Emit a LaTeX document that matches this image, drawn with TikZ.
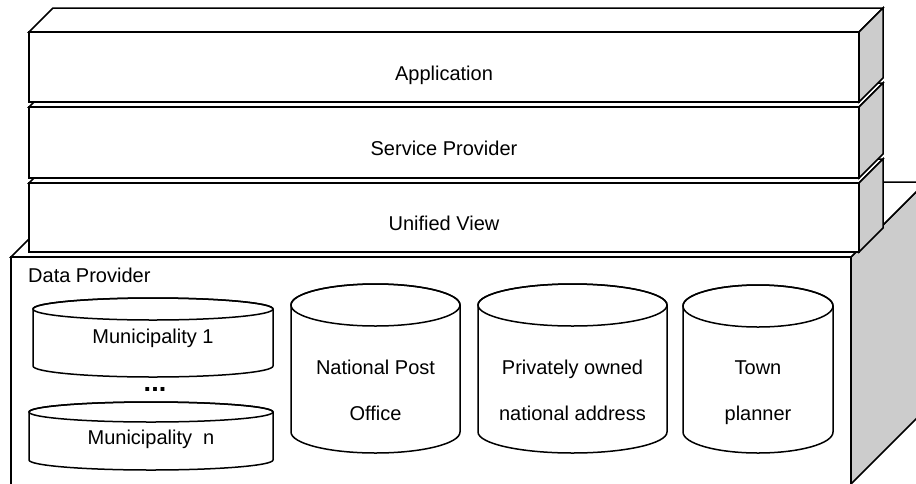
\documentclass[tikz,border=0pt]{standalone}
\usepackage{fontspec}
\setmainfont{Liberation Sans}
\definecolor{sidegray}{RGB}{204,204,204}
\tikzset{
  edge/.style={draw=black, line width=1.5pt, line join=miter},
  lbl/.style={font=\fontsize{20}{24}\selectfont, inner sep=0pt, anchor=base},
}
% slab: ytop, ybot, name, text, baseline
\newcommand\slab[5]{%
  \draw[edge, fill=white] (29,#1) -- (53,#1-24) -- (883,#1-24) -- (859,#1) -- cycle;
  \draw[edge, fill=sidegray] (859,#1) -- (883,#1-24) -- (883,#2-24) -- (859,#2) -- cycle;
  \draw[edge, fill=white] (29,#1) rectangle (859,#2);
  \node[lbl] (#3) at (444,#5) {#4};
}
% dbcyl: cx, rx, ytop, ybot, ry
\newcommand\dbcyl[5]{%
  \draw[edge, fill=white] (#1-#2,#3) -- (#1-#2,#4)
    arc[start angle=180, end angle=360, x radius=#2pt, y radius=#5pt]
    -- (#1+#2,#3)
    arc[start angle=0, end angle=180, x radius=#2pt, y radius=#5pt] -- cycle;
  \draw[edge] (#1,#3) ellipse[x radius=#2pt, y radius=#5pt];
}
\begin{document}
\begin{tikzpicture}[x=1pt, y=-1pt]
\useasboundingbox (0,0) rectangle (916,483);
\fill[white] (0,0) rectangle (916,483);
\clip (0,0) rectangle (916,483);
% Data provider box
\draw[edge, fill=sidegray] (851,257) -- (926,182) -- (926,409) -- (851,484) -- cycle;
\draw[edge, fill=white] (11,257) -- (86,182) -- (926,182) -- (851,257) -- cycle;
\draw[edge, fill=white] (11,257) rectangle (851,490);
\node[lbl, anchor=base west] (dp) at (28,282) {Data Provider};
% layers
\slab{183}{252}{uv}{Unified View}{230}
\slab{107}{178}{sp}{Service Provider}{155}
\slab{32}{102}{app}{Application}{80}
% databases
\dbcyl{153}{120}{309}{366}{11}
\node[lbl] (m1) at (153,343) {Municipality 1};
\node[lbl, font=\fontsize{27}{30}\selectfont\bfseries] (dots) at (155,391) {...};
\dbcyl{151}{122}{412}{460}{10}
\node[lbl] (mn) at (151,444) {Municipality\ \ n};
\dbcyl{375.5}{84.5}{305}{432}{21}
\node[lbl] (npo1) at (375.5,374) {National Post};
\node[lbl] (npo2) at (375.5,420) {Office};
\dbcyl{572.5}{94.5}{305}{432}{21}
\node[lbl] (poa1) at (572.5,374) {Privately owned};
\node[lbl] (poa2) at (572.5,420) {national address};
\dbcyl{758}{75}{306}{432}{21}
\node[lbl] (tp1) at (758,374) {Town};
\node[lbl] (tp2) at (758,420) {planner};
\end{tikzpicture}
\end{document}
